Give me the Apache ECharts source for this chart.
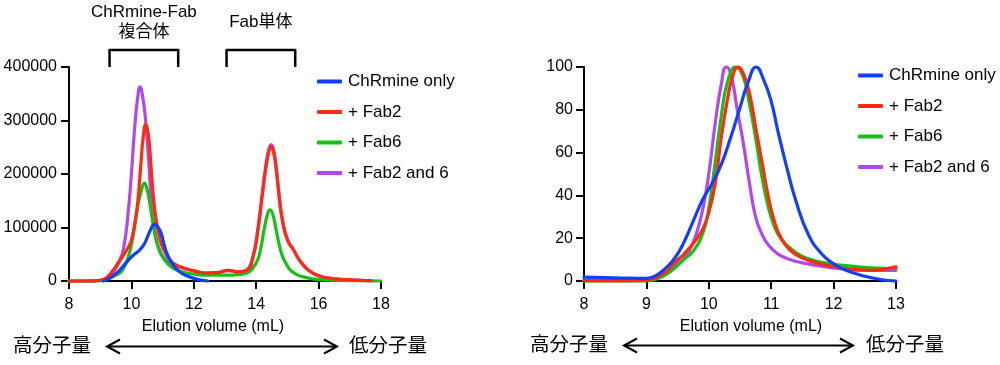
<!DOCTYPE html>
<html>
<head>
<meta charset="utf-8">
<script src="https://cdn.jsdelivr.net/npm/echarts@6/dist/echarts.min.js"></script>
<style>
html,body{margin:0;padding:0;background:#fff;}
#chart{width:1000px;height:365px;}
</style>
</head>
<body>
<div id="chart"></div>
<script>
// ---------- data ----------
const seriesNames = ['ChRmine only', '+ Fab2', '+ Fab6', '+ Fab2 and 6'];
const seriesColors = ['#1240FA', '#FF2A10', '#14C214', '#B446EE'];

// Left panel: raw signal vs elution volume
const leftBlueX = [9.1, 9.2, 9.4, 9.6, 9.8, 9.95, 10.1, 10.25, 10.4, 10.5, 10.6, 10.74, 10.85, 10.95, 11.05, 11.15, 11.3, 11.45, 11.62, 11.8, 12.05, 12.25, 12.45];
const leftBlueY = [0, 2000, 9000, 19000, 32000, 42000, 50000, 57000, 68000, 80000, 94000, 106000, 101000, 90000, 68000, 50000, 33000, 22000, 14000, 9000, 4000, 1500, 0];

const leftRedX = [8, 8.6, 9.0, 9.2, 9.4, 9.6, 9.8, 9.9, 10.0, 10.1, 10.2, 10.3, 10.38, 10.46, 10.54, 10.62, 10.7, 10.8, 10.9, 11.0, 11.2, 11.4, 11.7, 12.0, 12.4, 12.8, 13.1, 13.4, 13.7, 13.9, 14.05, 14.2, 14.3, 14.4, 14.48, 14.56, 14.65, 14.75, 14.85, 15.0, 15.2, 15.4, 15.7, 16.0, 16.5, 17.0, 17.7];
const leftRedY = [0, 0, 1000, 6000, 19000, 36000, 53000, 63000, 76000, 105000, 145000, 215000, 270000, 293000, 275000, 222000, 160000, 112000, 82000, 63000, 42000, 31000, 24000, 19000, 15000, 16000, 20000, 17000, 20000, 45000, 93000, 162000, 207000, 240000, 251000, 240000, 205000, 150000, 110000, 77000, 58000, 38000, 19000, 10000, 4000, 2000, 500];

const leftGreenX = [8, 8.6, 9.0, 9.2, 9.4, 9.6, 9.7, 9.8, 9.9, 10.0, 10.1, 10.2, 10.3, 10.42, 10.5, 10.6, 10.7, 10.8, 10.9, 11.0, 11.2, 11.4, 11.7, 12.0, 12.4, 12.8, 13.1, 13.4, 13.7, 13.9, 14.05, 14.15, 14.25, 14.35, 14.44, 14.53, 14.64, 14.75, 14.85, 15.0, 15.1, 15.3, 15.5, 15.8, 16.2, 16.8, 17.5, 18];
const leftGreenY = [0, 0, 500, 3000, 8000, 14000, 19000, 30000, 45000, 68000, 100000, 138000, 165000, 183000, 172000, 142000, 105000, 75000, 56000, 45000, 30000, 22000, 16000, 13000, 11000, 11000, 11000, 12000, 15000, 25000, 40000, 62000, 95000, 122000, 133000, 125000, 95000, 65000, 45000, 28000, 20000, 12000, 8000, 4000, 2000, 1000, 500, 0];

const leftPurpleX = [8, 8.6, 9.0, 9.2, 9.4, 9.6, 9.75, 9.9, 10.0, 10.1, 10.2, 10.28, 10.36, 10.44, 10.55, 10.66, 10.8, 10.95, 11.1, 11.3, 11.5, 11.7, 12.0, 12.4, 12.8, 13.1, 13.4, 13.7, 13.9, 14.05, 14.2, 14.3, 14.4, 14.48, 14.56, 14.65, 14.75, 14.85, 15.0, 15.2, 15.4, 15.7, 16.0, 16.5, 17.0, 17.7];
const leftPurpleY = [0, 0, 1000, 5000, 15000, 35000, 61000, 130000, 200000, 282000, 342000, 363000, 345000, 310000, 229000, 136000, 78000, 52000, 40000, 32000, 27000, 23000, 19000, 15000, 16000, 20000, 17000, 21000, 47000, 96000, 167000, 212000, 245000, 255000, 245000, 208000, 152000, 112000, 78000, 58000, 38000, 19000, 10000, 4000, 2000, 500];

// Right panel: normalised signal (%)
const rightBlueX = [8, 8.5, 9.0, 9.15, 9.3, 9.45, 9.6, 9.75, 9.9, 10.05, 10.2, 10.35, 10.5, 10.62, 10.76, 10.88, 11.0, 11.1, 11.25, 11.4, 11.6, 11.8, 12.0, 12.2, 12.45, 12.75, 13.0];
const rightBlueY = [1.8, 1.5, 1.2, 2.5, 5.8, 10.5, 18, 28, 38, 45.5, 54.5, 67, 81, 92, 100, 94, 84, 71, 53, 37, 21.5, 13, 8, 5, 2.6, 0.7, 0];

const rightRedX = [8, 8.5, 9.0, 9.15, 9.3, 9.45, 9.6, 9.75, 9.9, 10.0, 10.1, 10.2, 10.3, 10.38, 10.47, 10.56, 10.65, 10.75, 10.85, 10.95, 11.05, 11.15, 11.3, 11.5, 11.7, 11.9, 12.2, 12.6, 13.0];
const rightRedY = [0.3, 0.2, 0.3, 1.5, 4, 8.5, 12.5, 17.5, 24, 32, 45, 67, 85, 95.5, 100, 96.5, 88, 72, 56, 40, 28, 20.5, 14.5, 10.8, 8.7, 7.3, 5.8, 5, 6.6];

const rightGreenX = [8, 8.5, 9.0, 9.15, 9.3, 9.45, 9.6, 9.75, 9.9, 10.0, 10.1, 10.2, 10.3, 10.43, 10.55, 10.65, 10.75, 10.85, 10.95, 11.05, 11.15, 11.3, 11.5, 11.7, 11.9, 12.2, 12.6, 13.0];
const rightGreenY = [0, 0, 0, 0.8, 2.8, 6, 10, 14, 22, 34, 55, 77, 93, 100, 95.6, 83, 67, 49, 35, 25.5, 20, 15.5, 11.5, 9.5, 8.3, 7.2, 6.2, 5.8];

const rightPurpleX = [8, 8.5, 9.0, 9.15, 9.3, 9.45, 9.6, 9.7, 9.8, 9.9, 10.0, 10.1, 10.2, 10.28, 10.36, 10.45, 10.55, 10.65, 10.75, 10.85, 10.95, 11.1, 11.3, 11.5, 11.8, 12.1, 12.5, 13.0];
const rightPurpleY = [0.2, 0.2, 0.3, 1.2, 3.5, 7, 10.5, 15, 22, 33, 50, 73, 92, 100, 96, 81, 65, 46, 30, 22, 17, 12.8, 10, 8.5, 6.9, 5.8, 5, 5];

// Axis ticks
const leftXTicks = [8, 10, 12, 14, 16, 18];
const leftYTicks = [0, 100000, 200000, 300000, 400000];
const rightXTicks = [8, 9, 10, 11, 12, 13];
const rightYTicks = [0, 20, 40, 60, 80, 100];

// Annotations
const bracketRanges = [[9.3, 11.5], [13.05, 15.25]];
const bracketLabels = [['ChRmine-Fab', '複合体'], ['Fab単体']];
const xAxisTitle = 'Elution volume (mL)';
const highMW = '高分子量';
const lowMW = '低分子量';

// ---------- chart ----------
const FONT = "'Liberation Sans', Arial, 'Noto Sans CJK JP', sans-serif";
const CJK = "'Noto Sans CJK JP', sans-serif";
const zip = (xs, ys) => xs.map((x, i) => [x, ys[i]]);

const chart = echarts.init(document.getElementById('chart'), null, {renderer: 'canvas'});

function xAxisCfg(gi, ticks) {
  return {
    type: 'value', gridIndex: gi,
    min: ticks[0], max: ticks[ticks.length - 1], interval: ticks[1] - ticks[0],
    axisLine: {show: true, onZero: false, lineStyle: {color: '#000', width: 2}},
    axisTick: {show: true, length: 8, lineStyle: {color: '#000', width: 2}},
    axisLabel: {color: '#000', fontSize: 16, fontFamily: FONT, margin: 16},
    splitLine: {show: false}
  };
}
function yAxisCfg(gi, ticks, margin) {
  return {
    type: 'value', gridIndex: gi,
    min: ticks[0], max: ticks[ticks.length - 1], interval: ticks[1] - ticks[0],
    axisLine: {show: true, onZero: false, lineStyle: {color: '#000', width: 2}},
    axisTick: {show: true, length: 8, lineStyle: {color: '#000', width: 2}},
    axisLabel: {color: '#000', fontSize: 16, fontFamily: FONT, margin: margin, formatter: v => String(v)},
    splitLine: {show: false}
  };
}
function lineSeries(name, data, gi) {
  const idx = seriesNames.indexOf(name);
  return {
    type: 'line', name: name, data: data,
    xAxisIndex: gi, yAxisIndex: gi,
    showSymbol: false, symbol: 'none',
    smooth: 0.5, clip: false,
    color: seriesColors[idx],
    lineStyle: {width: 3.2, color: seriesColors[idx], cap: 'round', join: 'round'},
    animation: false
  };
}
function legendCfg(left, top) {
  return {
    data: seriesNames, orient: 'vertical', left: left, top: top,
    icon: 'roundRect', itemWidth: 25, itemHeight: 4, itemGap: 13.5,
    textStyle: {fontSize: 17, fontFamily: FONT, color: '#000', padding: [0, 0, 0, 1]},
    selectedMode: false
  };
}

const option = {
  animation: false,
  backgroundColor: '#fff',
  grid: [
    {left: 69, top: 67, width: 312, height: 214},
    {left: 584, top: 67, width: 312, height: 214}
  ],
  xAxis: [xAxisCfg(0, leftXTicks), xAxisCfg(1, rightXTicks)],
  yAxis: [yAxisCfg(0, leftYTicks, 12), yAxisCfg(1, rightYTicks, 11)],
  legend: [legendCfg(312, 68), legendCfg(853, 62)],
  series: [
    lineSeries('+ Fab2 and 6', zip(leftPurpleX, leftPurpleY), 0),
    lineSeries('+ Fab6', zip(leftGreenX, leftGreenY), 0),
    lineSeries('+ Fab2', zip(leftRedX, leftRedY), 0),
    lineSeries('ChRmine only', zip(leftBlueX, leftBlueY), 0),
    lineSeries('+ Fab2 and 6', zip(rightPurpleX, rightPurpleY), 1),
    lineSeries('+ Fab6', zip(rightGreenX, rightGreenY), 1),
    lineSeries('+ Fab2', zip(rightRedX, rightRedY), 1),
    lineSeries('ChRmine only', zip(rightBlueX, rightBlueY), 1)
  ]
};
chart.setOption(option);

// ---------- annotations positioned through the axes ----------
const g = [];
const gridTop = chart.convertToPixel({yAxisIndex: 0}, leftYTicks[leftYTicks.length - 1]);
const bracketTop = gridTop - 17;
bracketRanges.forEach((r, i) => {
  const x1 = chart.convertToPixel({xAxisIndex: 0}, r[0]);
  const x2 = chart.convertToPixel({xAxisIndex: 0}, r[1]);
  g.push({
    type: 'polyline', silent: true,
    shape: {points: [[x1, gridTop], [x1, bracketTop], [x2, bracketTop], [x2, gridTop]]},
    style: {stroke: '#000', lineWidth: 2.5, fill: null, lineJoin: 'round'}
  });
  const cx = (x1 + x2) / 2;
  const lines = bracketLabels[i];
  if (lines.length === 2) {
    g.push({type: 'text', silent: true, x: cx, y: 12, style: {text: lines[0], fontSize: 17, fontFamily: FONT, fill: '#000', align: 'center', verticalAlign: 'middle'}});
    g.push({type: 'text', silent: true, x: cx, y: 31, style: {text: lines[1], fontSize: 17, fontFamily: CJK, fill: '#000', align: 'center', verticalAlign: 'middle'}});
  } else {
    g.push({type: 'text', silent: true, x: cx, y: 22, style: {text: lines[0], fontSize: 17, fontFamily: FONT, fill: '#000', align: 'center', verticalAlign: 'middle'}});
  }
});

function bottomBlock(titleX, titleY, hiX, arrowX1, arrowX2, loX, y) {
  g.push({type: 'text', silent: true, x: titleX, y: titleY, style: {text: xAxisTitle, fontSize: 16, fontFamily: FONT, fill: '#000', align: 'center', verticalAlign: 'middle'}});
  g.push({type: 'text', silent: true, x: hiX, y: y, style: {text: highMW, fontSize: 19.5, fontFamily: CJK, fill: '#000', align: 'left', verticalAlign: 'middle'}});
  g.push({type: 'text', silent: true, x: loX, y: y, style: {text: lowMW, fontSize: 19.5, fontFamily: CJK, fill: '#000', align: 'left', verticalAlign: 'middle'}});
  g.push({type: 'line', silent: true, shape: {x1: arrowX1, y1: y + 1.5, x2: arrowX2, y2: y + 1.5}, style: {stroke: '#000', lineWidth: 2}});
  g.push({type: 'polyline', silent: true, shape: {points: [[arrowX1 + 13, y + 1.5 - 7], [arrowX1, y + 1.5], [arrowX1 + 13, y + 1.5 + 7]]}, style: {stroke: '#000', lineWidth: 2, fill: null}});
  g.push({type: 'polyline', silent: true, shape: {points: [[arrowX2 - 13, y + 1.5 - 7], [arrowX2, y + 1.5], [arrowX2 - 13, y + 1.5 + 7]]}, style: {stroke: '#000', lineWidth: 2, fill: null}});
}
bottomBlock(213, 327, 13, 107, 337, 349, 345);
bottomBlock(751, 327, 530, 624, 853, 866, 344);

chart.setOption({graphic: g});
</script>
</body>
</html>
